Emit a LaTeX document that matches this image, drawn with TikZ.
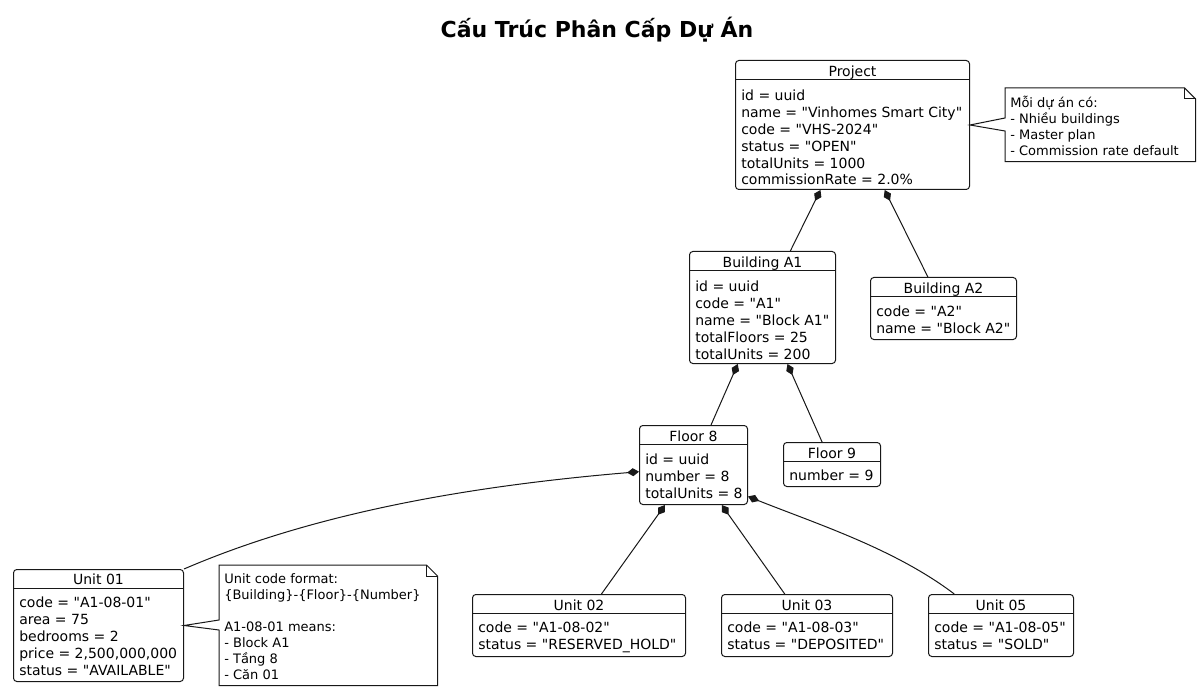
\documentclass[tikz,border=0pt]{standalone}
\usepackage{fontspec}
\setmainfont{DejaVu Sans}[Ligatures=TeXOff]
\usetikzlibrary{arrows.meta, calc}
\definecolor{umlline}{HTML}{181818}
\tikzset{
  obj/.style={rectangle, draw=umlline, line width=0.75pt, rounded corners=2.5pt,
    anchor=north west, inner sep=0pt, fill=white},
  sz/.style 2 args={minimum width=#1*0.75pt, minimum height=#2*0.75pt},
  hdr/.style={anchor=base, inner sep=0pt, font=\fontsize{10.5}{12.75}\selectfont},
  attr/.style={anchor=north west, inner sep=0pt, align=left, font=\fontsize{10.5}{12.6}\selectfont},
  sepline/.style={draw=umlline, line width=0.75pt},
  notebox/.style={anchor=north west, inner sep=0pt},
  notetxt/.style={anchor=north west, inner sep=0pt, align=left, font=\fontsize{9.75}{12}\selectfont},
  noteline/.style={draw=umlline, line width=0.75pt, fill=white, line join=miter},
  comp/.style={{Diamond[length=9pt,width=6pt]}-, draw=umlline, line width=0.75pt},
  ttl/.style={anchor=base, inner sep=0pt, font=\fontsize{16.5}{20}\selectfont\bfseries},
}
\begin{document}
\begin{tikzpicture}[x=0.75pt, y=-0.75pt]
  \fill[white] (0,0) rectangle (1201,691);
  \useasboundingbox (0,0) rectangle (1201,691);

  \node[ttl] (title) at (597,38) {Cấu Trúc Phân Cấp Dự Án};

  % objects
  \node[obj, sz={234}{129}] (proj) at (735,60) {};
  \node[hdr] (projh) at ($(proj.north)+(0,16.5)$) {Project};
  \draw[sepline] ($(proj.north west)+(0,20)$) -- ($(proj.north east)+(0,20)$);
  \node[attr] (projb) at ($(proj.north west)+(6,30)$) {id = uuid\\name = "Vinhomes Smart City"\\code = "VHS-2024"\\status = "OPEN"\\totalUnits = 1000\\commissionRate = 2.0\%};

  \node[obj, sz={146}{112}] (bA1) at (689,251) {};
  \node[hdr] (bA1h) at ($(bA1.north)+(0,16.5)$) {Building A1};
  \draw[sepline] ($(bA1.north west)+(0,20)$) -- ($(bA1.north east)+(0,20)$);
  \node[attr] (bA1b) at ($(bA1.north west)+(6,30)$) {id = uuid\\code = "A1"\\name = "Block A1"\\totalFloors = 25\\totalUnits = 200};

  \node[obj, sz={146}{62}] (bA2) at (870,277) {};
  \node[hdr] (bA2h) at ($(bA2.north)+(0,16)$) {Building A2};
  \draw[sepline] ($(bA2.north west)+(0,19)$) -- ($(bA2.north east)+(0,19)$);
  \node[attr] (bA2b) at ($(bA2.north west)+(6,29)$) {code = "A2"\\name = "Block A2"};

  \node[obj, sz={108}{79}] (fl8) at (639,425) {};
  \node[hdr] (fl8h) at ($(fl8.north)+(0,16)$) {Floor 8};
  \draw[sepline] ($(fl8.north west)+(0,19)$) -- ($(fl8.north east)+(0,19)$);
  \node[attr] (fl8b) at ($(fl8.north west)+(6,29)$) {id = uuid\\number = 8\\totalUnits = 8};

  \node[obj, sz={97}{44}] (fl9) at (783,442) {};
  \node[hdr] (fl9h) at ($(fl9.north)+(0,16)$) {Floor 9};
  \draw[sepline] ($(fl9.north west)+(0,19)$) -- ($(fl9.north east)+(0,19)$);
  \node[attr] (fl9b) at ($(fl9.north west)+(6,28)$) {number = 9};

  \node[obj, sz={170}{112}] (u01) at (13,569) {};
  \node[hdr] (u01h) at ($(u01.north)+(0,15.5)$) {Unit 01};
  \draw[sepline] ($(u01.north west)+(0,19)$) -- ($(u01.north east)+(0,19)$);
  \node[attr] (u01b) at ($(u01.north west)+(6,28)$) {code = "A1-08-01"\\area = 75\\bedrooms = 2\\price = 2,500,000,000\\status = "AVAILABLE"};

  \node[obj, sz={213}{62}] (u02) at (472,594) {};
  \node[hdr] (u02h) at ($(u02.north)+(0,16)$) {Unit 02};
  \draw[sepline] ($(u02.north west)+(0,19)$) -- ($(u02.north east)+(0,19)$);
  \node[attr] (u02b) at ($(u02.north west)+(6,28)$) {code = "A1-08-02"\\status = "RESERVED\_HOLD"};

  \node[obj, sz={171}{62}] (u03) at (721,594) {};
  \node[hdr] (u03h) at ($(u03.north)+(0,16)$) {Unit 03};
  \draw[sepline] ($(u03.north west)+(0,19)$) -- ($(u03.north east)+(0,19)$);
  \node[attr] (u03b) at ($(u03.north west)+(6,28)$) {code = "A1-08-03"\\status = "DEPOSITED"};

  \node[obj, sz={145}{62}] (u05) at (928,594) {};
  \node[hdr] (u05h) at ($(u05.north)+(0,16)$) {Unit 05};
  \draw[sepline] ($(u05.north west)+(0,19)$) -- ($(u05.north east)+(0,19)$);
  \node[attr] (u05b) at ($(u05.north west)+(6,28)$) {code = "A1-08-05"\\status = "SOLD"};

  % notes
  \node[notebox, sz={190}{73}] (note1) at (1005,88) {};
  \draw[noteline] (note1.north west) -- ($(note1.north east)+(-11,0)$) -- ($(note1.north east)+(0,11)$)
    -- (note1.south east) -- (note1.south west) -- ($(note1.north west)+(0,43)$)
    -- (proj.east) -- ($(note1.north west)+(0,30)$) -- cycle;
  \draw[sepline] ($(note1.north east)+(-11,0)$) -- ++(0,11) -- ++(11,0);
  \node[notetxt] (note1t) at ($(note1.north west)+(5,8)$) {Mỗi dự án có:\\- Nhiều buildings\\- Master plan\\- Commission rate default};

  \node[notebox, sz={218}{120}] (note2) at (219,565) {};
  \draw[noteline] (note2.north west) -- ($(note2.north east)+(-11,0)$) -- ($(note2.north east)+(0,11)$)
    -- (note2.south east) -- (note2.south west) -- ($(note2.north west)+(0,65)$)
    -- (u01.east) -- ($(note2.north west)+(0,55)$) -- cycle;
  \draw[sepline] ($(note2.north east)+(-11,0)$) -- ++(0,11) -- ++(11,0);
  \node[notetxt] (note2t) at ($(note2.north west)+(5,8)$) {Unit code format:\\\{Building\}-\{Floor\}-\{Number\}\\[12pt]A1-08-01 means:\\- Block A1\\- Tầng 8\\- Căn 01};

  % composition links
  \draw[comp] (proj) -- (bA1);
  \draw[comp] (proj) -- (bA2);
  \draw[comp] (bA1) -- (fl8);
  \draw[comp] (bA1) -- (fl9);
  \draw[comp] (fl8) -- (u02);
  \draw[comp] (fl8) -- (u03);
  \draw[comp] (fl8.187) .. controls (469,486) and (314,513) .. (u01.north east);
  \draw[comp] (fl8.-30) .. controls (817,524) and (895,549) .. (u05.146);
\end{tikzpicture}
\end{document}
